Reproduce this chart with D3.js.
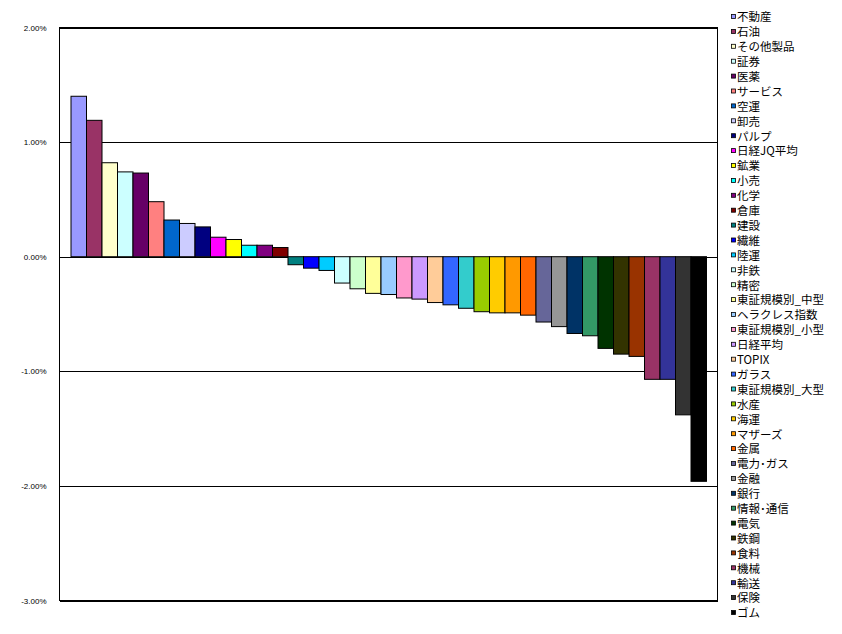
<!DOCTYPE html>
<html>
<head>
<meta charset="utf-8">
<script src="https://cdn.jsdelivr.net/npm/d3@7/dist/d3.min.js"></script>
<style>
  body { margin: 0; background: #fff; }
  svg { display: block; }
</style>
</head>
<body>
<div id="chart"></div>
<script>
// 業種別騰落率 (%)
const names = ["不動産","石油","その他製品","証券","医薬","サービス","空運","卸売","パルプ","日経JQ平均",
  "鉱業","小売","化学","倉庫","建設","繊維","陸運","非鉄","精密","東証規模別_中型",
  "ヘラクレス指数","東証規模別_小型","日経平均","TOPIX","ガラス","東証規模別_大型","水産","海運","マザーズ","金属",
  "電力･ガス","金融","銀行","情報･通信","電気","鉄鋼","食料","機械","輸送","保険","ゴム"]
const values = [1.40, 1.19, 0.82, 0.74, 0.73, 0.48, 0.32, 0.29, 0.26, 0.17,
  0.15, 0.10, 0.10, 0.08, -0.07, -0.10, -0.12, -0.23, -0.28, -0.32,
  -0.33, -0.36, -0.37, -0.40, -0.42, -0.45, -0.48, -0.49, -0.49, -0.51,
  -0.57, -0.61, -0.67, -0.69, -0.80, -0.85, -0.87, -1.07, -1.07, -1.38, -1.96]
// Excel の既定の系列色
const colors = ["#9999FF","#993366","#FFFFCC","#CCFFFF","#660066","#FF8080","#0066CC","#CCCCFF","#000080","#FF00FF",
  "#FFFF00","#00FFFF","#800080","#800000","#008080","#0000FF","#00CCFF","#CCFFFF","#CCFFCC","#FFFF99",
  "#99CCFF","#FF99CC","#CC99FF","#FFCC99","#3366FF","#33CCCC","#99CC00","#FFCC00","#FF9900","#FF6600",
  "#666699","#969696","#003366","#339966","#003300","#333300","#993300","#993366","#333399","#333333","#000000"]
const yTicks = [-3, -2, -1, 0, 1, 2]

const W = 842, H = 634
const plot = {left: 59.5, right: 717.5, top: 27.5, bottom: 600.5}

const svg = d3.select("#chart").append("svg")
  .attr("width", W).attr("height", H)

const y = d3.scaleLinear().domain([-3, 2]).range([plot.bottom, plot.top])
// 1カテゴリに41系列が並ぶ形なので左右に余白をとる
const x = d3.scaleBand().domain(names).range([plot.left + 11.5, plot.right - 11]).padding(0)

// 目盛線とラベル
const axis = d3.axisLeft(y)
  .tickValues(yTicks)
  .tickSize(-(plot.right - plot.left))
  .tickPadding(13)
  .tickFormat(d => d.toFixed(2) + "%")

const gAxis = svg.append("g")
  .attr("transform", `translate(${plot.left},0)`)
  .call(axis)
gAxis.select(".domain").remove()
gAxis.selectAll(".tick line").attr("stroke", "#000").attr("shape-rendering", "crispEdges")
gAxis.selectAll(".tick text")
  .attr("font-family", "Liberation Sans, Arial, sans-serif")
  .attr("font-size", 8)
  .attr("fill", "#000")

// 棒
svg.append("g").selectAll("rect")
  .data(names)
  .join("rect")
  .attr("x", d => x(d))
  .attr("width", x.bandwidth())
  .attr("y", (d, i) => y(Math.max(0, values[i])))
  .attr("height", (d, i) => Math.abs(y(values[i]) - y(0)))
  .attr("fill", (d, i) => colors[i])
  .attr("stroke", "#000")
  .attr("stroke-width", 1)

// 枠
svg.append("rect")
  .attr("x", plot.left).attr("y", plot.top)
  .attr("width", plot.right - plot.left).attr("height", plot.bottom - plot.top)
  .attr("fill", "none").attr("stroke", "#000")
  .attr("shape-rendering", "crispEdges")

// 凡例
const legend = svg.append("g").selectAll("g")
  .data(names)
  .join("g")
  .attr("transform", (d, i) => `translate(731,${17 + i * 14.9})`)

legend.append("rect")
  .attr("x", 0.5).attr("y", -2.5)
  .attr("width", 4).attr("height", 4)
  .attr("fill", (d, i) => colors[i])
  .attr("stroke", "#000").attr("stroke-width", 0.8)

legend.append("text")
  .attr("x", 6)
  .attr("y", 0)
  .attr("dy", "0.38em")
  .attr("font-family", "'Noto Sans CJK JP', sans-serif")
  .attr("font-size", 11.5)
  .attr("fill", "#000")
  .text(d => d)
</script>
</body>
</html>
